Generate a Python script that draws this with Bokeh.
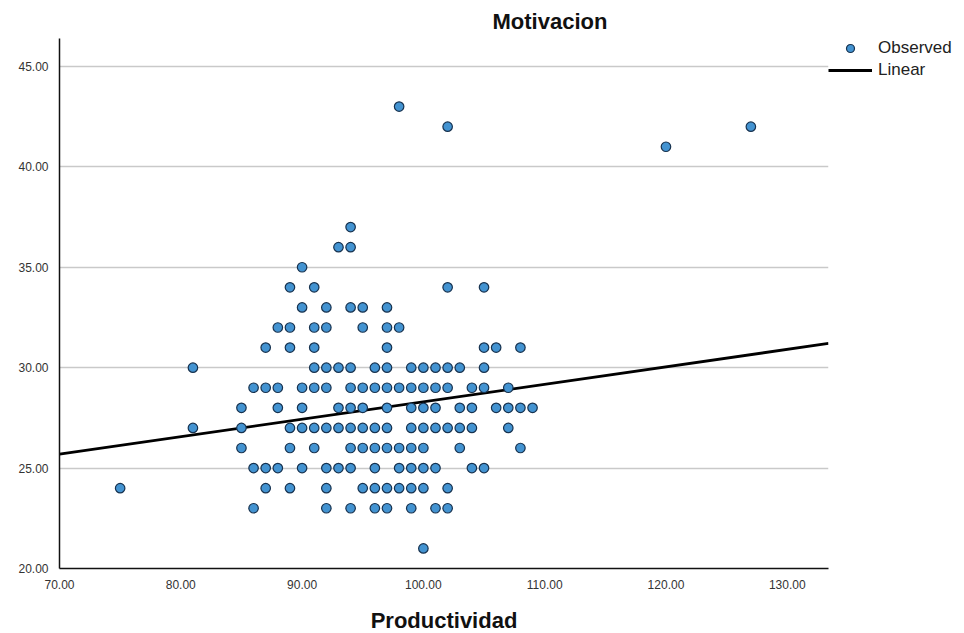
from bokeh.plotting import figure
from bokeh.models import Range1d, NumeralTickFormatter, FixedTicker, Legend, LegendItem
from bokeh.embed import file_html
from bokeh.resources import INLINE

# ---- data ----
prod = [98,
        102, 127,
        120,
        94,
        93, 94,
        90,
        89, 91, 102, 105,
        90, 92, 94, 95, 97,
        88, 89, 91, 92, 95, 97, 98,
        87, 89, 91, 97, 105, 106, 108,
        81, 91, 92, 93, 94, 96, 97, 99, 100, 101, 102, 103, 105,
        86, 87, 88, 90, 91, 92, 94, 95, 96, 97, 98, 99, 100, 101, 102, 104, 105, 107,
        85, 88, 90, 93, 94, 95, 97, 99, 100, 101, 103, 104, 106, 107, 108, 109,
        81, 85, 89, 90, 91, 92, 93, 94, 95, 96, 97, 99, 100, 101, 102, 103, 104, 107,
        85, 89, 91, 94, 95, 96, 97, 98, 99, 100, 103, 108,
        86, 87, 88, 90, 92, 93, 94, 96, 98, 99, 100, 101, 104, 105,
        75, 87, 89, 92, 95, 96, 97, 98, 99, 100, 102,
        86, 92, 94, 96, 97, 99, 101, 102,
        100]
motiv = [43,
         42, 42,
         41,
         37,
         36, 36,
         35,
         34, 34, 34, 34,
         33, 33, 33, 33, 33,
         32, 32, 32, 32, 32, 32, 32,
         31, 31, 31, 31, 31, 31, 31,
         30, 30, 30, 30, 30, 30, 30, 30, 30, 30, 30, 30, 30,
         29, 29, 29, 29, 29, 29, 29, 29, 29, 29, 29, 29, 29, 29, 29, 29, 29, 29,
         28, 28, 28, 28, 28, 28, 28, 28, 28, 28, 28, 28, 28, 28, 28, 28,
         27, 27, 27, 27, 27, 27, 27, 27, 27, 27, 27, 27, 27, 27, 27, 27, 27, 27,
         26, 26, 26, 26, 26, 26, 26, 26, 26, 26, 26, 26,
         25, 25, 25, 25, 25, 25, 25, 25, 25, 25, 25, 25, 25, 25,
         24, 24, 24, 24, 24, 24, 24, 24, 24, 24, 24,
         23, 23, 23, 23, 23, 23, 23, 23,
         21]

fit_intercept = 19.6
fit_slope = 0.087
fit_x = [70.0, 133.4]
fit_y = [fit_intercept + fit_slope * v for v in fit_x]

x_ticks = [70, 80, 90, 100, 110, 120, 130]
y_ticks = [20, 25, 30, 35, 40, 45]

FONT = "Liberation Sans"

p = figure(frame_width=769, frame_height=530, output_backend="svg", toolbar_location=None,
           x_range=Range1d(70, 133.4), y_range=Range1d(20, 46.39),
           min_border_left=59, min_border_right=136, min_border_top=38,
           min_border_bottom=62, background_fill_color="white",
           border_fill_color="white")

p.title.text = "Motivacion"
p.title.align = "left"
p.title.offset = 433
p.title.text_font = FONT
p.title.text_font_size = "22px"
p.title.text_font_style = "bold"
p.title.text_color = "#111111"
p.title.standoff = 9

p.outline_line_color = None
p.xgrid.grid_line_color = None
p.ygrid.grid_line_color = "#c9c9c9"
p.ygrid.grid_line_width = 1.5
p.ygrid.ticker = FixedTicker(ticks=y_ticks)

for ax, ticks in ((p.xaxis[0], x_ticks), (p.yaxis[0], y_ticks)):
    ax.ticker = FixedTicker(ticks=ticks)
    ax.formatter = NumeralTickFormatter(format="0.00")
    ax.axis_line_color = "#111111"
    ax.axis_line_width = 1.5
    ax.major_tick_line_color = None
    ax.minor_tick_line_color = None
    ax.major_label_text_font = FONT
    ax.major_label_text_font_size = "12px"
    ax.major_label_text_color = "#333333"
    ax.major_label_standoff = 5

p.xaxis.axis_label = "Productividad"
p.xaxis.axis_label_text_font = FONT
p.xaxis.axis_label_text_font_size = "22px"
p.xaxis.axis_label_text_font_style = "bold"
p.xaxis.axis_label_text_color = "#111111"
p.xaxis.axis_label_standoff = 16

ln = p.line(fit_x, fit_y, line_color="black", line_width=2.8)
sc = p.scatter(prod, motiv, size=9.5, fill_color="#4393d1",
               line_color="#17324f", line_width=1.2)

legend = Legend(items=[LegendItem(label="Observed", renderers=[sc]),
                       LegendItem(label="Linear", renderers=[ln])],
                location="top_left", padding=0, margin=0, spacing=2,
                glyph_width=44, glyph_height=20, label_standoff=6,
                label_text_font=FONT, label_text_font_size="17px",
                label_text_color="#222222", border_line_color=None,
                background_fill_alpha=0)
p.add_layout(legend, "right")

open("out.html", "w").write(file_html(p, INLINE))
